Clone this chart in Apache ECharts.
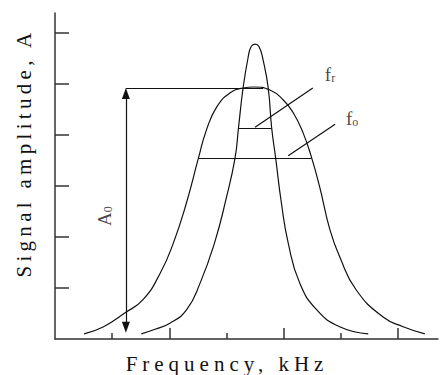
<!DOCTYPE html>
<html>
<head>
<meta charset="utf-8">
<script src="https://cdn.jsdelivr.net/npm/echarts@6/dist/echarts.min.js"></script>
<style>
  html, body { margin: 0; padding: 0; background: #fff; }
  #chart { width: 440px; height: 375px; }
</style>
</head>
<body>
<div id="chart"></div>
<script>
// axis ticks (no labels in the figure)
const xMajorTicks = [2, 4, 6]
const xMinorTicks = [1, 3, 5]
const yTicks = [1, 2, 3, 4, 5, 6]

// wide resonance curve (f_o): [frequency, amplitude]
const wideCurve = [
  [0.51, 0.10], [0.85, 0.24], [1.22, 0.51], [1.54, 0.77], [1.84, 1.29],
  [2.07, 1.88], [2.30, 2.67], [2.51, 3.55], [2.65, 4.10], [2.83, 4.55],
  [3.06, 4.82], [3.29, 4.92], [3.48, 4.94], [3.76, 4.88], [3.99, 4.69],
  [4.17, 4.43], [4.34, 4.04], [4.49, 3.55], [4.63, 2.98], [4.81, 2.14],
  [4.98, 1.61], [5.27, 0.96], [5.74, 0.43], [6.09, 0.24], [6.47, 0.10]
]

// narrow resonance curve (f_r)
const narrowCurve = [
  [1.51, 0.10], [1.75, 0.19], [2.01, 0.31], [2.30, 0.57], [2.54, 1.10],
  [2.79, 1.88], [3.00, 2.78], [3.15, 3.55], [3.21, 4.14], [3.29, 4.92],
  [3.38, 5.53], [3.43, 5.73], [3.50, 5.78], [3.57, 5.73], [3.64, 5.47],
  [3.73, 4.92], [3.79, 4.14], [3.86, 3.55], [3.96, 2.67], [4.08, 1.88],
  [4.28, 1.10], [4.58, 0.57], [4.98, 0.24], [5.48, 0.10]
]

// annotation segments [[x1, y1], [x2, y2]]
const a0Arrow = [[1.24, 0.23], [1.24, 4.81]]
const a0Level = [[1.24, 4.92], [3.64, 4.92]]
const frWidth = [[3.21, 4.14], [3.79, 4.14]]
const frLeader = [[3.50, 4.15], [4.51, 4.92]]
const foWidth = [[2.51, 3.55], [4.49, 3.55]]
const foLeader = [[4.08, 3.59], [4.90, 4.21]]

// annotation label anchors
const frLabelAt = [4.72, 5.0]
const foLabelAt = [5.09, 4.14]
const a0LabelAt = [0.87, 2.41]

const ink = '#111'
const axisColor = '#333'
const serif = 'Liberation Serif, Times New Roman, serif'

const seg = (pts, arrows) => [
  { coord: pts[0], symbol: arrows ? 'triangle' : 'none' },
  { coord: pts[1], symbol: arrows ? 'triangle' : 'none' }
]

const myChart = echarts.init(document.getElementById('chart'), null, { renderer: 'svg' })

const titleStyle = {
  fontSize: 21,
  fontFamily: serif,
  fill: ink,
  textAlign: 'center', align: 'center',
  textVerticalAlign: 'middle', verticalAlign: 'middle'
}

const option = {
  animation: false,
  textStyle: { fontFamily: serif },
  grid: { left: 55, right: 2, top: 13, bottom: 36 },
  xAxis: [
    {
      type: 'value',
      min: 0,
      max: 6.7,
      axisLine: { lineStyle: { color: axisColor, width: 1.5 } },
      axisTick: { inside: true, length: 11, customValues: xMajorTicks, lineStyle: { color: axisColor, width: 1.5 } },
      axisLabel: { show: false },
      splitLine: { show: false }
    },
    {
      type: 'value',
      position: 'bottom',
      min: 0,
      max: 6.7,
      axisLine: { show: false },
      axisTick: { inside: true, length: 6, customValues: xMinorTicks, lineStyle: { color: axisColor, width: 1.5 } },
      axisLabel: { show: false },
      splitLine: { show: false }
    }
  ],
  yAxis: {
    type: 'value',
    min: 0,
    max: 6.39,
    axisLine: { show: true, lineStyle: { color: axisColor, width: 1.5 } },
    axisTick: { show: true, inside: true, length: 14, customValues: yTicks, lineStyle: { color: axisColor, width: 1.5 } },
    axisLabel: { show: false },
    splitLine: { show: false }
  },
  graphic: [
    {
      type: 'text',
      id: 'xTitle',
      x: 227,
      y: 364,
      style: Object.assign({ text: 'Frequency, kHz' }, titleStyle)
    },
    {
      type: 'text',
      id: 'yTitle',
      x: 24,
      y: 153,
      rotation: Math.PI / 2,
      style: Object.assign({ text: 'Signal amplitude, A' }, titleStyle)
    }
  ],
  series: [
    {
      name: 'f_o',
      type: 'line',
      smooth: 0.5,
      symbol: 'none',
      lineStyle: { color: ink, width: 1.2 },
      data: wideCurve
    },
    {
      name: 'f_r',
      type: 'line',
      smooth: 0.5,
      symbol: 'none',
      lineStyle: { color: ink, width: 1.2 },
      data: narrowCurve,
      markLine: {
        silent: true,
        symbolSize: [8, 11],
        label: { show: false },
        lineStyle: { type: 'solid', color: ink, width: 1.2 },
        emphasis: { disabled: true },
        data: [
          seg(a0Arrow, true),
          seg(a0Level),
          seg(frWidth),
          seg(frLeader),
          seg(foWidth),
          seg(foLeader)
        ]
      }
    },
    {
      name: 'labels',
      type: 'scatter',
      symbolSize: 0,
      silent: true,
      label: {
        show: true,
        position: [0, 0],
        align: 'left',
        verticalAlign: 'bottom',
        color: ink,
        fontFamily: serif,
        rich: {
          m: { fontSize: 19, fontFamily: serif, color: ink },
          s: { fontSize: 12, fontFamily: serif, color: ink, verticalAlign: 'bottom', padding: [6, 0, 0, 0] }
        }
      },
      data: [
        { value: frLabelAt, label: { formatter: '{m|f}{s|r}' } },
        { value: foLabelAt, label: { formatter: '{m|f}{s|o}' } },
        {
          value: a0LabelAt,
          label: { formatter: '{m|A}{s|0}', rotate: 90, align: 'center', verticalAlign: 'middle' }
        }
      ]
    }
  ]
}

myChart.setOption(option)

// the axis titles in the figure are letter-spaced; echarts has no option for that
document.querySelectorAll('#chart text').forEach(t => {
  if (t.textContent === 'Frequency, kHz') t.style.letterSpacing = '5px'
  if (t.textContent === 'Signal amplitude, A') t.style.letterSpacing = '4.3px'
})
</script>
</body>
</html>
